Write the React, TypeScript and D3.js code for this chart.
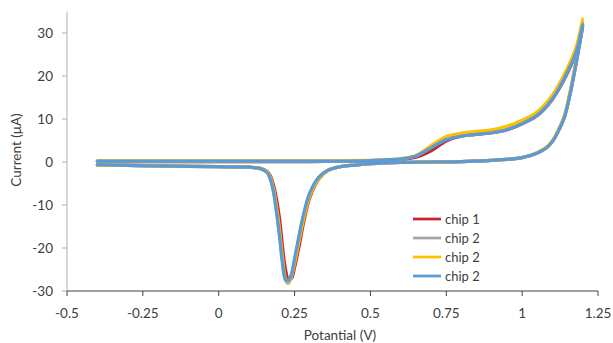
import React from "react";
import * as d3 from "d3";

// potentials (V): forward sweep then reverse sweep
const forwardPotential = [-0.4, -0.3, -0.2, -0.1, 0, 0.1, 0.2, 0.3, 0.4, 0.5, 0.55, 0.6, 0.65, 0.7, 0.75, 0.8, 0.85, 0.9, 0.95, 1.0, 1.05, 1.1, 1.15, 1.18, 1.2];
const reversePotential = [1.2, 1.18, 1.16, 1.14, 1.12, 1.1, 1.08, 1.05, 1.0, 0.95, 0.9, 0.8, 0.7, 0.6, 0.5, 0.45, 0.4, 0.36, 0.33, 0.3, 0.28, 0.265, 0.25, 0.24, 0.23, 0.22, 0.21, 0.2, 0.19, 0.18, 0.17, 0.16, 0.14, 0.1, 0, -0.1, -0.2, -0.3, -0.4];

// currents (µA)
const chip1Forward = [0.1, 0.1, 0.1, 0.1, 0.1, 0.1, 0.1, 0.1, 0.2, 0.3, 0.4, 0.6, 1.1, 2.6, 4.9, 6.0, 6.4, 6.8, 7.5, 8.9, 10.8, 14.6, 20.8, 25.8, 32.0];
const chip1Reverse = [32.0, 23.8, 16.5, 10.6, 7.3, 4.8, 3.3, 2.1, 1.0, 0.6, 0.4, 0.1, 0.0, -0.1, -0.4, -0.7, -1.1, -2.0, -3.9, -8.3, -14.0, -19.5, -24.5, -27.0, -27.3, -25.0, -19.5, -13.0, -8.5, -5.2, -3.2, -2.2, -1.5, -1.2, -1.1, -1.0, -0.9, -0.8, -0.7];
const chip2aForward = [0.1, 0.1, 0.1, 0.1, 0.1, 0.1, 0.1, 0.1, 0.2, 0.3, 0.5, 0.7, 1.4, 3.4, 5.3, 6.1, 6.5, 6.9, 7.6, 9.0, 11.0, 14.8, 21.2, 26.2, 32.5];
const chip2aReverse = [32.5, 24.2, 16.8, 10.8, 7.4, 4.9, 3.3, 2.1, 1.0, 0.6, 0.4, 0.1, 0.0, -0.1, -0.4, -0.7, -1.1, -1.9, -3.6, -7.5, -12.5, -17.5, -23.0, -26.3, -28.2, -27.5, -23.0, -16.5, -11.0, -6.5, -3.8, -2.4, -1.6, -1.2, -1.1, -1.0, -0.9, -0.8, -0.7];
const chip2bForward = [0.3, 0.3, 0.3, 0.3, 0.3, 0.3, 0.3, 0.3, 0.3, 0.4, 0.5, 0.8, 1.5, 3.8, 5.9, 6.7, 7.1, 7.5, 8.3, 9.7, 11.7, 15.6, 22.0, 27.2, 33.3];
const chip2bReverse = [33.3, 24.5, 17.0, 11.0, 7.5, 5.0, 3.4, 2.2, 1.0, 0.6, 0.4, 0.1, 0.0, -0.1, -0.4, -0.7, -1.1, -2.0, -3.8, -7.9, -13.2, -18.3, -23.6, -26.5, -28.0, -27.0, -22.0, -15.5, -10.2, -6.0, -3.6, -2.3, -1.6, -1.2, -1.1, -1.0, -0.9, -0.8, -0.7];
const chip2cForward = [0.2, 0.2, 0.2, 0.2, 0.2, 0.2, 0.2, 0.2, 0.2, 0.3, 0.5, 0.7, 1.4, 3.3, 5.2, 6.0, 6.4, 6.8, 7.5, 8.9, 10.9, 14.7, 21.0, 26.0, 32.0];
const chip2cReverse = [32.0, 23.8, 16.5, 10.6, 7.3, 4.8, 3.3, 2.1, 1.0, 0.6, 0.4, 0.1, 0.0, -0.1, -0.4, -0.7, -1.1, -1.9, -3.5, -7.2, -12.0, -17.0, -22.5, -26.0, -27.6, -27.3, -23.5, -17.0, -11.5, -6.8, -4.0, -2.5, -1.6, -1.2, -1.1, -1.0, -0.9, -0.8, -0.6];

const seriesNames = ["chip 1", "chip 2", "chip 2", "chip 2"];
const seriesColors = ["#C8262C", "#A5A5A5", "#FFC000", "#5B9BD5"];
const forwardCurrents = [chip1Forward, chip2aForward, chip2bForward, chip2cForward];
const reverseCurrents = [chip1Reverse, chip2aReverse, chip2bReverse, chip2cReverse];

const xTicks = [-0.5, -0.25, 0, 0.25, 0.5, 0.75, 1, 1.25];
const yTicks = [-30, -20, -10, 0, 10, 20, 30];

const font = "Lato, 'Liberation Sans', sans-serif";

export default function App() {
  const width = 613;
  const height = 343;
  const x = d3.scaleLinear().domain([-0.5, 1.25]).range([67, 598]);
  const y = d3.scaleLinear().domain([-30, 35]).range([291, 11.5]);

  const line = d3
    .line<[number, number]>()
    .x((d) => x(d[0]))
    .y((d) => y(d[1]))
    .curve(d3.curveCatmullRom.alpha(0.5));

  const paths = seriesNames.map((_, i) => {
    const pts: [number, number][] = [
      ...forwardPotential.map((v, j) => [v, forwardCurrents[i][j]] as [number, number]),
      ...reversePotential.slice(1).map((v, j) => [v, reverseCurrents[i][j + 1]] as [number, number]),
    ];
    return line(pts) || "";
  });

  const fmt = (v: number) => String(v);

  return (
    <svg
      width={width}
      height={height}
      style={{ position: "absolute", left: 0, top: 0, background: "#fff" }}
      fontFamily={font}
    >
      {/* y axis */}
      <line x1={x(-0.5)} x2={x(-0.5)} y1={y(35)} y2={y(-30)} stroke="#B0B0B0" strokeWidth={1} />
      {yTicks.map((t) => (
        <g key={"y" + t}>
          <line x1={x(-0.5) - 5} x2={x(-0.5)} y1={y(t)} y2={y(t)} stroke="#B0B0B0" />
          <text x={53} y={y(t)} dy="0.35em" textAnchor="end" fontSize={13.5} fill="#404040">
            {fmt(t)}
          </text>
        </g>
      ))}
      {/* x axis */}
      <line x1={x(-0.5)} x2={x(1.25)} y1={y(-30)} y2={y(-30)} stroke="#404040" strokeWidth={1} />
      {xTicks.map((t) => (
        <g key={"x" + t}>
          <line x1={x(t)} x2={x(t)} y1={y(-30)} y2={y(-30) + 5} stroke="#404040" />
          <text x={x(t)} y={313} dy="0.35em" textAnchor="middle" fontSize={13.5} fill="#404040">
            {fmt(t)}
          </text>
        </g>
      ))}
      {/* curves */}
      {paths.map((p, i) => (
        <path key={i} d={p} fill="none" stroke={seriesColors[i]} strokeWidth={3.25} strokeLinejoin="round" strokeLinecap="round" />
      ))}
      {/* axis titles */}
      <text
        transform={`translate(16,150) rotate(-90)`}
        textAnchor="middle"
        dy="0.35em"
        fontSize={13.5}
        fill="#404040"
      >
        Current (μA)
      </text>
      <text x={340} y={335} textAnchor="middle" dy="0.35em" fontSize={13.5} fill="#404040">
        Potantial (V)
      </text>
      {/* legend */}
      {seriesNames.map((n, i) => (
        <g key={"l" + i} transform={`translate(413,${219 + i * 19})`}>
          <line x1={0} x2={28} y1={0} y2={0} stroke={seriesColors[i]} strokeWidth={2.75} />
          <text x={32} y={0} dy="0.35em" fontSize={13} fill="#404040">
            {n}
          </text>
        </g>
      ))}
    </svg>
  );
}
